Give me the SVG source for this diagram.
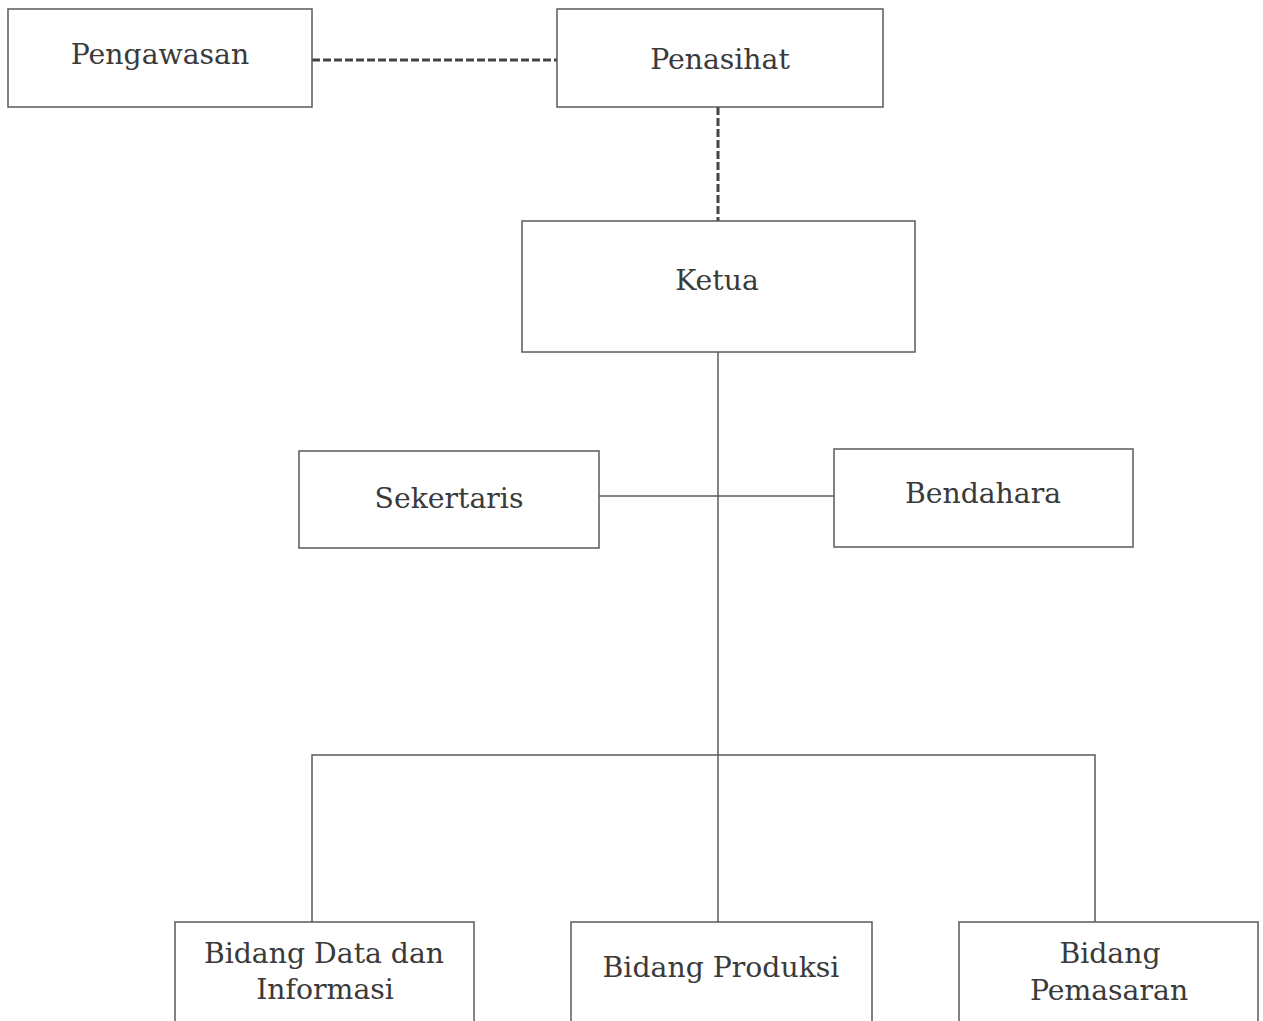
<svg xmlns="http://www.w3.org/2000/svg" width="1263" height="1021" viewBox="0 0 1263 1021">
  <style>
    .box { fill: #ffffff; stroke: #5a5a5a; stroke-width: 1.5; }
    .lbl { font-family: "DejaVu Serif", "Liberation Serif", serif; font-size: 28.3px; fill: #3a3a3a; text-anchor: middle; }
    .solid { fill: none; stroke: #5a5a5a; stroke-width: 1.5; }
    .dash { fill: none; stroke: #444444; stroke-width: 3; stroke-dasharray: 8 3; }
  </style>
  <rect width="1263" height="1021" fill="#ffffff"/>

  <!-- connectors -->
  <g id="connectors">
    <line class="dash" x1="312" y1="60" x2="557" y2="60"/>
    <line class="dash" x1="718" y1="107" x2="718" y2="221"/>
    <line class="solid" x1="718" y1="352" x2="718" y2="922"/>
    <line class="solid" x1="599" y1="496" x2="834" y2="496"/>
    <polyline class="solid" points="312,922 312,755 1095,755 1095,922"/>
  </g>

  <g id="pengawasan">
    <rect class="box" x="8" y="9" width="304" height="98"/>
    <text class="lbl" x="160" y="64">Pengawasan</text>
  </g>
  <g id="penasihat">
    <rect class="box" x="557" y="9" width="326" height="98"/>
    <text class="lbl" x="720" y="69">Penasihat</text>
  </g>
  <g id="ketua">
    <rect class="box" x="522" y="221" width="393" height="131"/>
    <text class="lbl" x="717" y="290">Ketua</text>
  </g>
  <g id="sekertaris">
    <rect class="box" x="299" y="451" width="300" height="97"/>
    <text class="lbl" x="449" y="508">Sekertaris</text>
  </g>
  <g id="bendahara">
    <rect class="box" x="834" y="449" width="299" height="98"/>
    <text class="lbl" x="983" y="503">Bendahara</text>
  </g>
  <g id="bidang-data">
    <rect class="box" x="175" y="922" width="299" height="110"/>
    <text class="lbl" x="324" y="963">Bidang Data dan</text>
    <text class="lbl" x="325" y="999">Informasi</text>
  </g>
  <g id="bidang-produksi">
    <rect class="box" x="571" y="922" width="301" height="110"/>
    <text class="lbl" x="721" y="977">Bidang Produksi</text>
  </g>
  <g id="bidang-pemasaran">
    <rect class="box" x="959" y="922" width="299" height="110"/>
    <text class="lbl" x="1110" y="963">Bidang</text>
    <text class="lbl" x="1109" y="1000">Pemasaran</text>
  </g>
</svg>
